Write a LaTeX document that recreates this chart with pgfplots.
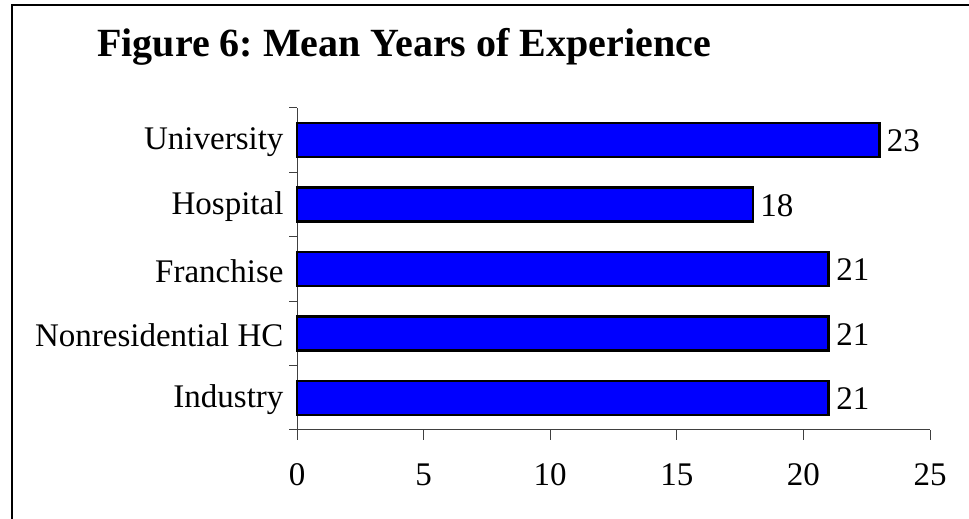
\documentclass[border=0pt]{standalone}
\usepackage{fontspec}
\setmainfont{Liberation Serif}
\usepackage{pgfplots}
\pgfplotsset{compat=1.18}
\frenchspacing
\begin{document}
\begin{tikzpicture}[x=1bp,y=1bp]
\path[use as bounding box] (0,0) rectangle (969,519);
\draw[line width=2bp] (12,0) -- (12,514) -- (969,514);
\node[anchor=base west,inner sep=0pt,font=\fontsize{40bp}{46bp}\selectfont\bfseries] at (97,462) {Figure 6: Mean Years of Experience};
\begin{axis}[
  at={(297bp,89bp)}, anchor=south west,
  scale only axis, width=633bp, height=322bp,
  xmin=0, xmax=25, ymin=-0.5, ymax=4.5,
  axis lines*=left,
  axis line style={line width=1bp, black!75},
  xtick={0,5,...,25},
  ytick={0,1,2,3,4},
  yticklabels={Industry,Nonresidential HC,Franchise,Hospital,University},
  minor ytick={-0.5,0.5,1.5,2.5,3.5,4.5},
  tick align=outside,
  major tick length=10bp,
  minor tick length=8bp,
  major y tick style={draw=none},
  minor y tick style={draw=black!75, line width=1bp},
  x tick style={black!75, line width=1bp},
  /pgf/number format/assume math mode=true,
  tick label style={font=\fontsize{33bp}{38bp}\selectfont},
  xticklabel shift=20bp,
  yticklabel shift=0bp,
  yticklabel style={yshift=-2bp},
  xbar, bar width=34bp,
  nodes near coords,
  every node near coord/.append style={font=\fontsize{33bp}{38bp}\selectfont, anchor=west, xshift=3bp, yshift=-1bp},
  clip=false,
]
\addplot[fill={rgb,255:red,0;green,0;blue,255}, draw=black, line width=2.5bp] coordinates {
  (21,0) (21,1) (21,2) (18,3) (23,4)
};
\end{axis}
\end{tikzpicture}
\end{document}
